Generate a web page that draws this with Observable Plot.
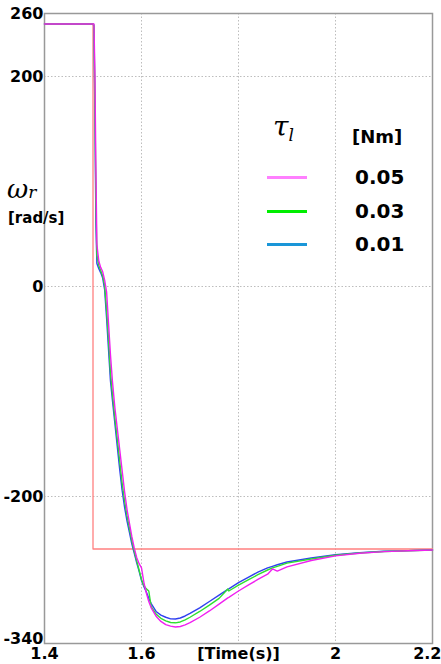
<!DOCTYPE html>
<html>
<head>
<meta charset="utf-8">
<script src="https://cdn.jsdelivr.net/npm/d3@7"></script>
<script src="https://cdn.jsdelivr.net/npm/@observablehq/plot@0.6"></script>
<style>
  html, body { margin: 0; padding: 0; background: #fff; }
  #wrap { position: relative; width: 441px; height: 664px; overflow: hidden; }
  .lab { position: absolute; font-family: "DejaVu Sans", sans-serif; font-weight: bold; color: #000; white-space: nowrap; line-height: 1; }
  .math { position: absolute; font-family: "DejaVu Serif", serif; font-style: italic; color: #000; white-space: nowrap; line-height: 1; }
  .sw { position: absolute; height: 3px; width: 40px; }
</style>
</head>
<body>
<div id="wrap"></div>
<script>
// ---- data ----
const time = [1.4, 1.5, 1.502, 1.504, 1.506, 1.508, 1.512, 1.516, 1.52, 1.524, 1.528, 1.532, 1.536, 1.54, 1.545, 1.55, 1.555, 1.56, 1.565, 1.57, 1.575, 1.58, 1.585, 1.59, 1.595, 1.6, 1.605, 1.61, 1.615, 1.62, 1.63, 1.64, 1.65, 1.66, 1.67, 1.68, 1.69, 1.7, 1.72, 1.74, 1.76, 1.778, 1.78, 1.8, 1.82, 1.84, 1.86, 1.87, 1.88, 1.9, 1.95, 2.0, 2.05, 2.1, 2.15, 2.2];
const speed001 = [250, 250, 248, 160, 60, 22, 17, 13, 8, -3, -30, -60, -90, -108, -130, -152, -174, -194, -210, -223, -234, -245, -254, -263, -271, -280, -286, -291, -297, -302, -309.5, -313, -315, -316.5, -316.7, -315.7, -313.8, -311.4, -306, -300, -294, -288.5, -288, -282, -277, -272, -268, -266.5, -265, -262.4, -258.6, -255.5, -253.5, -252.2, -251.5, -251];
const speed003 = [250, 250, 249, 175, 80, 30, 20, 15, 10, 1, -22, -50, -82, -102, -125, -145, -166, -187, -204, -218, -230, -242, -252, -261, -270, -279, -285, -288, -290, -305, -312, -316, -318.5, -320, -320.3, -319.5, -317.5, -315, -309.5, -303.5, -297, -288, -290, -284.5, -279.5, -274.5, -270, -268, -266.5, -263.5, -259.5, -256, -253.8, -252.4, -251.6, -251];
const speed005 = [250, 250, 250, 200, 110, 40, 24, 18, 14, 6, -5, -35, -65, -90, -115, -135, -155, -175, -195, -212, -225, -238, -249, -258, -264, -268, -282, -292, -300, -306, -314, -319, -322, -323.5, -324.3, -323.8, -322.3, -320.2, -315, -309, -302.5, -296.5, -296, -290, -284.5, -279, -274, -269, -271, -267, -261, -256.5, -254, -252.5, -251.6, -251];
const refTime = [1.4, 1.5, 1.5, 2.2];
const refSpeed = [250, 250, -250, -250];
const loads = ["0.05", "0.03", "0.01"];
const xTicks = [1.4, 1.6, 1.8, 2, 2.2];
const yTicks = [260, 200, 0, -200, -340];
const xGrid = [1.6, 1.8, 2.0];
const yGrid = [200, 0, -200];

// ---- colors ----
const lineColors = {"0.05": "#f020f0", "0.03": "#30e030", "0.01": "#3040f0"};
const legendColors = {"0.05": "#ff80ff", "0.03": "#00ee00", "0.01": "#1a96d8"};

const series = [
  {load: "0.01", v: speed001},
  {load: "0.03", v: speed003},
  {load: "0.05", v: speed005}
];
const rows = series.flatMap(s => time.map((t, i) => ({t, v: s.v[i], load: s.load})));
const refRows = refTime.map((t, i) => ({t, v: refSpeed[i]}));

const txt = {fontSize: 16, fontWeight: "bold", fill: "#000"};

const chart = Plot.plot({
  width: 441,
  height: 664,
  marginLeft: 44,
  marginRight: 9,
  marginTop: 13,
  marginBottom: 21,
  style: {fontFamily: "DejaVu Sans, sans-serif", fontSize: "16px", fontWeight: "bold", color: "#000", background: "#fff", overflow: "visible"},
  x: {domain: [1.4, 2.2]},
  y: {domain: [-340, 260]},
  marks: [
    Plot.gridX(xGrid, {stroke: "#bdbdbd", strokeOpacity: 1, strokeDasharray: "1.5,2"}),
    Plot.gridY(yGrid, {stroke: "#bdbdbd", strokeOpacity: 1, strokeDasharray: "1.5,2"}),
    Plot.frame({stroke: "#999", strokeWidth: 1.5}),
    Plot.line(refRows, {x: "t", y: "v", stroke: "#ff8080", strokeWidth: 1.3}),
    ...series.map(s => Plot.line(rows.filter(r => r.load === s.load), {x: "t", y: "v", stroke: lineColors[s.load], strokeWidth: 1.4})),
    Plot.axisX(xTicks.filter(d => d !== 2.2), {tickSize: 0, tickPadding: 4, label: null, ...txt,
      tickFormat: d => d === 1.8 ? "[Time(s)]" : String(d)}),
    Plot.axisX([2.2], {tickSize: 0, tickPadding: 4, label: null, textAnchor: "end", dx: 9, ...txt, tickFormat: d => String(d)}),
    Plot.axisY(yTicks.filter(d => d !== -340), {tickSize: 0, tickPadding: 1, label: null, ...txt, tickFormat: d => String(d)}),
    Plot.axisY([-340], {tickSize: 0, tickPadding: 1, label: null, dy: -5, ...txt, tickFormat: d => String(d)})
  ]
});

const wrap = document.getElementById("wrap");
wrap.appendChild(chart);

function add(cls, html, style) {
  const d = document.createElement("div");
  d.className = cls;
  d.innerHTML = html;
  Object.assign(d.style, style);
  wrap.appendChild(d);
  return d;
}
// y-axis title
add("math", "ω<span style='font-size:17px'>r</span>", {left: "7px", top: "176px", fontSize: "26px"});
add("lab", "[rad/s]", {left: "8px", top: "211px", fontSize: "15px"});
// legend
add("math", "τ<span style='font-size:17px;position:relative;top:5px'>l</span>", {left: "273px", top: "113px", fontSize: "28px"});
add("lab", "[Nm]", {left: "352px", top: "128px", fontSize: "18px"});
const legY = [177, 211, 244];
loads.forEach((k, i) => {
  add("sw", "", {left: "267px", top: (legY[i] - 1.5) + "px", background: legendColors[k]});
  add("lab", k, {left: "355px", top: (legY[i] - 10) + "px", fontSize: "20px"});
});
</script>
</body>
</html>
